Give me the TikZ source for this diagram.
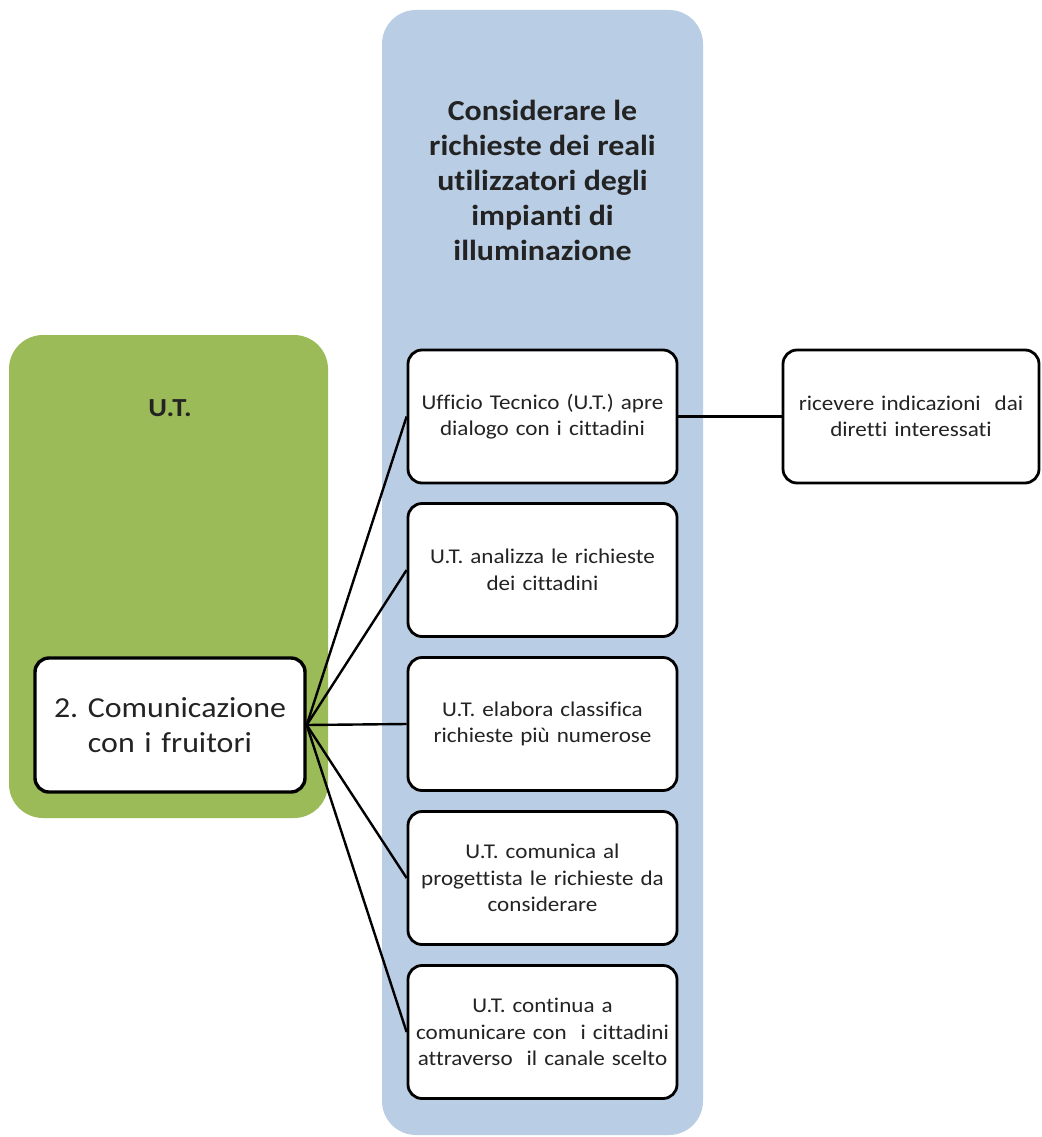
\documentclass[tikz,border=0pt]{standalone}
\usepackage{fontspec}
\setmainfont{Carlito}[FakeStretch=1.1, Ligatures={NoCommon}]
\usepackage{tikz}
\definecolor{ltblue}{RGB}{185,205,228}
\definecolor{olive}{RGB}{155,187,89}
\definecolor{ink}{RGB}{35,35,35}
\frenchspacing

\begin{document}
\begin{tikzpicture}[x=1pt,y=-1pt,
    band/.style={rounded corners=34pt},
    item/.style={draw=black, line width=2.8pt, rounded corners=14pt, fill=white,
      minimum width=269pt, minimum height=133pt, text width=264pt, align=center,
      inner sep=0pt, text=ink, font=\fontsize{21}{26.5}\selectfont},
    link/.style={line width=2.4pt}]
          \useasboundingbox (0,0) rectangle (1041,1137);
          % columns
          \fill[ltblue, band] (382,10) rectangle (703,1135);
          \fill[olive, band] (9,335) rectangle (328,818);
          \node[text=ink, align=center, font=\bfseries\fontsize{29}{35}\selectfont] (T) at (542.5,180)
            {Considerare le\\richieste dei reali\\utilizzatori degli\\impianti di\\illuminazione};
          \node[text=ink, font=\bfseries\fontsize{26}{30}\selectfont] (UT) at (170,408) {U.T.};
          % boxes
          \node[item, minimum width=270pt, minimum height=134pt, line width=3.4pt,
            font=\fontsize{29}{35}\selectfont] (C) at (170,725) {2. Comunicazione\\con i fruitori};
          \node[item] (A1) at (542.5,416.5) {Ufficio Tecnico (U.T.) apre\\dialogo con i cittadini};
          \node[item] (A2) at (542.5,570) {U.T. analizza le richieste\\dei cittadini};
          \node[item] (A3) at (542.5,724) {U.T. elabora classifica\\richieste più numerose};
          \node[item] (A4) at (542.5,878) {U.T. comunica al\\progettista le richieste da\\considerare};
          \node[item] (A5) at (542.5,1032) {U.T. continua a\\comunicare con\ \ i cittadini\\attraverso\ \ il canale scelto};
          \node[item, minimum width=256pt, text width=250pt] (R) at (911,416.5) {ricevere indicazioni\ \ dai\\diretti interessati};
          % links
          \draw[link] (C.east) to (A1.west);
          \draw[link] (C.east) to (A2.west);
          \draw[link] (C.east) to (A3.west);
          \draw[link] (C.east) to (A4.west);
          \draw[link] (C.east) to (A5.west);
          \draw[link] (A1) to (R);
        \end{tikzpicture}
\end{document}
